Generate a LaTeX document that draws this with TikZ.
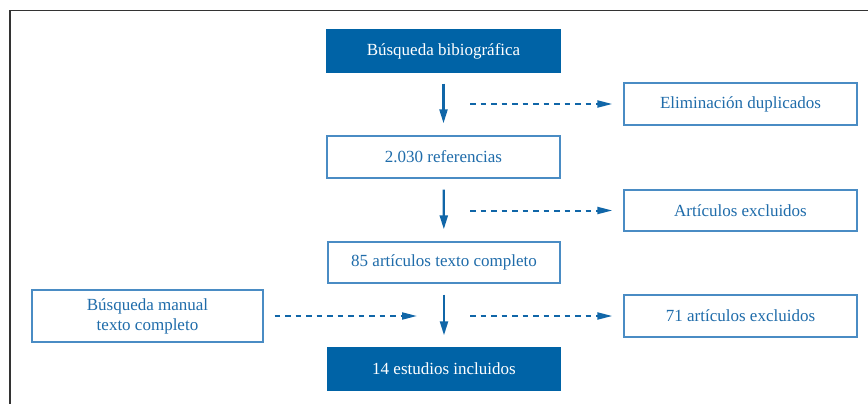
\documentclass[tikz,border=0pt]{standalone}
\usepackage{fontspec}
\setmainfont{Liberation Serif}
\usetikzlibrary{arrows.meta}
\definecolor{darkblue}{HTML}{0063A6}
\definecolor{txtblue}{HTML}{1F6CAA}
\definecolor{edgeblue}{HTML}{4A8CC4}
\definecolor{arrblue}{HTML}{1066A8}
\definecolor{frame}{HTML}{333333}
\tikzset{
  box/.style={draw=edgeblue, line width=1.3pt, fill=white, text=txtblue,
    minimum width=233pt, minimum height=42pt, inner sep=0pt,
    font=\fontsize{17}{20}\selectfont, align=center},
  filledbox/.style={box, draw=darkblue, fill=darkblue, text=white},
  solidarrow/.style={draw=arrblue, line width=2.2pt, -{Triangle[length=14pt,width=8pt]},
    shorten <=11pt, shorten >=12pt},
  dasharrow/.style={draw=arrblue, line width=2pt, dash pattern=on 5.5pt off 5pt,
    -{Triangle[length=15pt,width=7pt]}}
}
\begin{document}
\begin{tikzpicture}[x=1pt,y=-1pt]
\useasboundingbox (0,0) rectangle (868,404);
\draw[frame, line width=1.8pt] (10,404) -- (10,10.5) -- (868,10.5);
\node[filledbox] (b1) at (443.5,51) {Búsqueda bibiográfica};
\node[box] (elim) at (740.5,104) {Eliminación duplicados};
\node[box] (ref) at (443.5,157) {2.030 referencias};
\node[box, minimum height=41pt] (excl) at (740.5,210.5) {Artículos excluidos};
\node[box, minimum width=232pt, minimum height=41pt] (full) at (444,262.5) {85 artículos texto completo};
\node[box, minimum width=231pt, minimum height=52pt] (manual) at (147.5,316) {Búsqueda manual\\texto completo};
\node[box] (ex71) at (740.5,316) {71 artículos excluidos};
\node[filledbox, minimum width=232pt] (incl) at (444,369) {14 estudios incluidos};
\coordinate (d1) at (470,104);
\coordinate (d2) at (470,210.5);
\coordinate (d3) at (470,316);
\coordinate (d4) at (417,316);
\draw[solidarrow] (b1) -- (ref);
\draw[solidarrow] (ref) -- (full);
\draw[solidarrow] (full) -- (incl);
\draw[dasharrow, shorten >=11pt] (d1) -- (elim);
\draw[dasharrow, shorten >=11pt] (d2) -- (excl);
\draw[dasharrow, shorten >=11pt] (d3) -- (ex71);
\draw[dasharrow, shorten <=11pt] (manual) -- (d4);
\end{tikzpicture}
\end{document}
